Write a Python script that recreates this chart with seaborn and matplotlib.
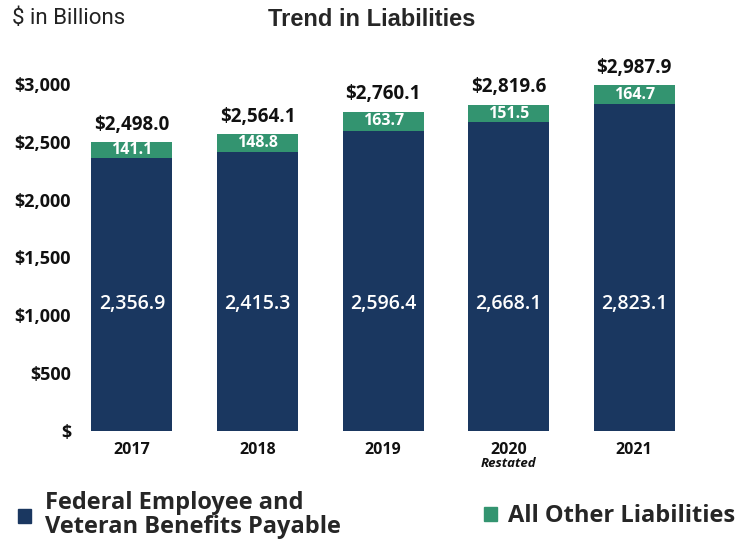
import matplotlib
matplotlib.use("Agg")
import matplotlib.pyplot as plt
import seaborn as sns
import pandas as pd
from matplotlib.patches import Patch

years = ["2017", "2018", "2019", "2020", "2021"]
benefits = [2356.9, 2415.3, 2596.4, 2668.1, 2823.1]
other = [141.1, 148.8, 163.7, 151.5, 164.7]
totals = [2498.0, 2564.1, 2760.1, 2819.6, 2987.9]
y_ticks = [0, 500, 1000, 1500, 2000, 2500, 3000]
y_tick_labels = ["$", "$500", "$1,000", "$1,500", "$2,000", "$2,500", "$3,000"]

navy = "#1a3760"
green = "#339470"

sns.set_style("white")
plt.rcParams["font.family"] = ["Open Sans", "DejaVu Sans"]

df = pd.DataFrame({"Ano": years, "Benefits": benefits, "Total": totals})

fig = plt.figure(figsize=(7.55, 5.44), dpi=100)
ax = fig.add_axes([0.1033, 0.2077, 0.8199, 0.6381])

# barras empilhadas: total (verde) por baixo, beneficios (azul) por cima
sns.barplot(data=df, x="Ano", y="Total", color=green, saturation=1, width=0.645,
            linewidth=0, ax=ax)
sns.barplot(data=df, x="Ano", y="Benefits", color=navy, saturation=1, width=0.645,
            linewidth=0, ax=ax)

ax.set_xlim(-0.43, 4.5)
ax.set_ylim(0, 3000)
ax.set_xlabel("")
ax.set_ylabel("")
ax.set_yticks(y_ticks)
ax.set_yticklabels(y_tick_labels, fontsize=13, fontweight="bold", color="#111111")
ax.set_xticks(range(len(years)))
ax.set_xticklabels(years, fontsize=11.5, fontweight="bold", color="#111111")
ax.tick_params(axis="both", length=0, pad=5)
ax.tick_params(axis="x", pad=8)
sns.despine(ax=ax, left=True, bottom=True)

for i in range(len(years)):
    ax.annotate(f"${totals[i]:,.1f}", (i, totals[i]), xytext=(0, 12.5),
                textcoords="offset points", ha="center", va="center",
                fontsize=13.5, fontweight="bold", color="#111111")
    ax.text(i, benefits[i] + other[i] / 2, f"{other[i]:.1f}", ha="center", va="center",
            fontsize=11.5, fontweight="bold", color="white")
    ax.text(i, 1100, f"{benefits[i]:,.1f}", ha="center", va="center",
            fontsize=14, fontweight="semibold", color="white")

ax.text(3, -0.095, "Restated", transform=ax.get_xaxis_transform(), ha="center", va="center",
        fontsize=9.5, fontweight="bold", fontstyle="italic", color="#111111")

fig.text(372 / 755, 1 - 19 / 544, "Trend in Liabilities", ha="center", va="center",
         fontsize=17, fontweight="bold", color="#262626", family="Liberation Sans")
fig.text(12 / 755, 1 - 18 / 544, "$ in Billions", ha="left", va="center",
         fontsize=16, color="#222222", family="Roboto")

leg1 = fig.legend(handles=[Patch(color=navy)], labels=["Federal Employee and\nVeteran Benefits Payable"],
                  loc="center left", bbox_to_anchor=(18 / 755, 1 - 515 / 544), frameon=False,
                  handlelength=0.55, handleheight=0.55, handletextpad=0.6,
                  borderpad=0, borderaxespad=0, prop={"weight": "bold", "size": 17})
leg1.get_texts()[0].set_linespacing(1.0)
fig.legend(handles=[Patch(color=green)], labels=["All Other Liabilities"],
           loc="center left", bbox_to_anchor=(484 / 755, 1 - 516 / 544), frameon=False,
           handlelength=0.55, handleheight=0.55, handletextpad=0.45,
           borderpad=0, borderaxespad=0, prop={"weight": "bold", "size": 17})

fig.savefig("out.png", dpi=100)
